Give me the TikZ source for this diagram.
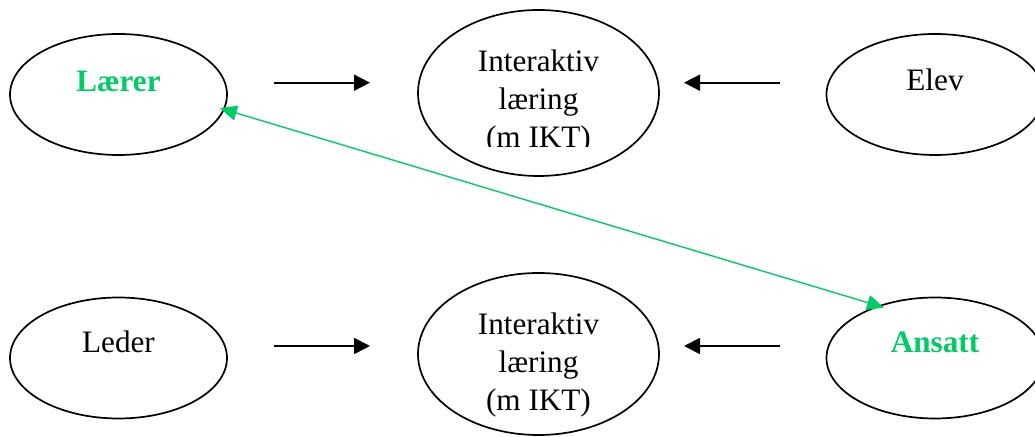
\documentclass[tikz,border=0pt]{standalone}
\usepackage{fontspec}
\setmainfont{Liberation Serif}
\usetikzlibrary{arrows.meta,shapes.geometric}
\definecolor{leafgreen}{RGB}{0,204,102}
\begin{document}
\begin{tikzpicture}[x=0.5pt,y=-0.5pt,
  oval/.style={draw, ellipse, line width=0.85pt, inner sep=0pt, outer sep=0pt},
  small/.style={oval, minimum width=108.5pt, minimum height=60.5pt},
  txt/.style={anchor=base, inner sep=0pt, font=\fontsize{15.6}{18.85}\selectfont},
  hot/.style={txt, font=\fontsize{15.6}{18.85}\selectfont\bfseries, text=leafgreen},
  flow/.style={-{Triangle[length=8pt,width=8pt]}, line width=0.9pt},
  link/.style={{Triangle[length=8.5pt,width=7.5pt]}-{Triangle[length=8.5pt,width=7.5pt]},
    draw=leafgreen, line width=0.7pt}]
\useasboundingbox (0,0) rectangle (1035,437);

% ellipses
\node[small] (laerer) at (118.5,94.5) {};
\node[oval, minimum width=120.5pt, minimum height=83pt] (ikt1) at (538.5,93) {};
\node[small] (elev) at (935,94.5) {};
\node[small] (leder) at (118.5,358) {};
\node[oval, minimum width=120.5pt, minimum height=81pt] (ikt2) at (538.5,354) {};
\node[small] (ansatt) at (935,358) {};

% texts
\node[hot] (laererT) at (118.5,92) {Lærer};
\node[txt] (elevT) at (935,91) {Elev};
\begin{scope}
  \clip (410,0) rectangle (670,147);
  \node[txt] (ikt1T) at (538.5,72)
    {\begin{tabular}[t]{@{}c@{}}Interaktiv\\læring\\(m IKT)\end{tabular}};
\end{scope}
\node[txt] (lederT) at (118.5,353) {Leder};
\node[txt] (ikt2T) at (538.5,335)
  {\begin{tabular}[t]{@{}c@{}}Interaktiv\\læring\\(m IKT)\end{tabular}};
\node[hot] (ansattT) at (935,353) {Ansatt};

% arrows
\draw[flow, shorten <=23.5pt, shorten >=24pt] (laerer.east |- 0,82.7) -- (ikt1.west |- 0,82.7);
\draw[flow, shorten <=23.25pt, shorten >=12.5pt] (elev.west |- 0,82.7) -- (ikt1.east |- 0,82.7);
\draw[flow, shorten <=23.5pt, shorten >=24pt] (leder.east |- 0,346) -- (ikt2.west |- 0,346);
\draw[flow, shorten <=23.25pt, shorten >=12.5pt] (ansatt.west |- 0,346) -- (ikt2.east |- 0,346);
\draw[link, shorten <=-2pt, shorten >=-2.5pt] (laerer.-8) -- (ansatt.137);
\end{tikzpicture}
\end{document}
